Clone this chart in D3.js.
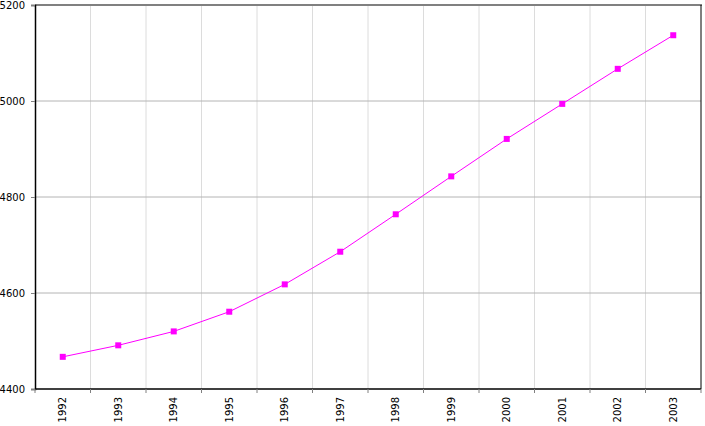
<!DOCTYPE html>
<html><head><meta charset="utf-8">
<script src="https://cdn.jsdelivr.net/npm/d3@7/dist/d3.min.js"></script>
<style>
html,body{margin:0;padding:0;background:#fff;}
text{font-family:"DejaVu Sans",sans-serif;font-size:10px;fill:#000;}
</style></head>
<body>
<svg id="c" width="705" height="426"></svg>
<script>
const years = ["1992","1993","1994","1995","1996","1997","1998","1999","2000","2001","2002","2003"];
const population = [4467, 4491, 4520, 4561, 4618, 4686, 4764, 4843, 4921, 4994, 5067, 5137];
const yTicks = [4400, 4600, 4800, 5000, 5200];

const svg = d3.select("#c");
const L = 35, R = 701, T = 5, B = 389;

const x = d3.scaleBand().domain(years).range([L, R]).padding(0);
const y = d3.scaleLinear().domain([4400, 5200]).range([B, T]);

// vertical grid at band boundaries
const bounds = years.map(d => x(d)).concat([R]);
svg.append("g").selectAll("line").data(bounds.slice(1, -1)).join("line")
  .attr("x1", d => d).attr("x2", d => d).attr("y1", T).attr("y2", B)
  .attr("stroke", "#dcdcdc").attr("stroke-width", 1);

// horizontal grid
svg.append("g").selectAll("line").data(yTicks.slice(1, -1)).join("line")
  .attr("x1", L).attr("x2", R).attr("y1", d => y(d)).attr("y2", d => y(d))
  .attr("stroke", "#b4b4b4").attr("stroke-width", 1);

// top border
svg.append("line").attr("x1", L).attr("x2", R + 1).attr("y1", T).attr("y2", T)
  .attr("stroke", "#808080").attr("stroke-width", 2);
// right border
svg.append("line").attr("x1", R).attr("x2", R).attr("y1", T).attr("y2", B)
  .attr("stroke", "#000").attr("stroke-width", 1);

// y axis
const yAxis = d3.axisLeft(y).tickValues(yTicks).tickSize(4).tickPadding(6).tickFormat(d3.format("d"));
const gy = svg.append("g").attr("transform", `translate(${L},0)`).call(yAxis);
gy.select(".domain").attr("stroke", "#000").attr("stroke-width", 1.5);
gy.selectAll(".tick line").attr("stroke", "#808080");
gy.selectAll("text").style("font-family", "DejaVu Sans").style("font-size", "10px").attr("fill", "#000");

// x axis
const gx = svg.append("g").attr("transform", `translate(0,${B})`);
gx.append("line").attr("x1", L).attr("x2", R).attr("y1", 0).attr("y2", 0)
  .attr("stroke", "#000").attr("stroke-width", 1.5);
gx.selectAll("line.tk").data(bounds).join("line").attr("class", "tk")
  .attr("x1", d => d).attr("x2", d => d).attr("y1", 0).attr("y2", 4)
  .attr("stroke", "#808080");
gx.selectAll("text").data(years).join("text")
  .attr("transform", d => `translate(${x(d) + x.bandwidth() / 2},8) rotate(-90)`)
  .attr("text-anchor", "end").attr("dy", "0.35em")
  .text(d => d);

// line
const line = d3.line().x((d, i) => x(years[i]) + x.bandwidth() / 2).y(d => y(d));
svg.append("path").datum(population).attr("d", line)
  .attr("fill", "none").attr("stroke", "#ff00ff").attr("stroke-width", 1);

svg.append("g").selectAll("rect").data(population).join("rect")
  .attr("x", (d, i) => x(years[i]) + x.bandwidth() / 2 - 3)
  .attr("y", d => y(d) - 3)
  .attr("width", 6).attr("height", 6)
  .attr("fill", "#ff00ff");
</script>
</body></html>
